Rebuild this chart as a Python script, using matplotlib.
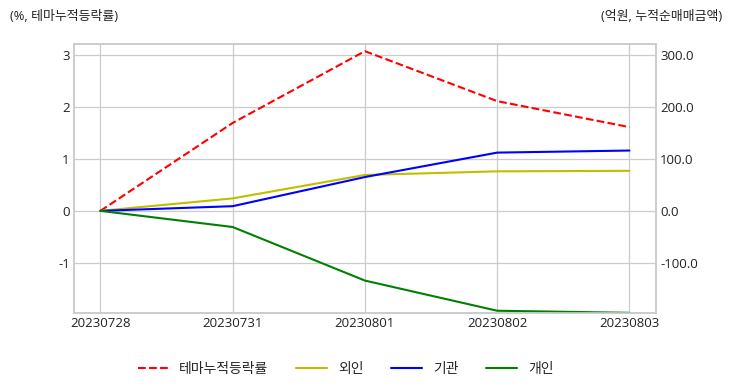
import matplotlib
matplotlib.use('Agg')
import matplotlib.pyplot as plt

# data
dates = ['20230728', '20230731', '20230801', '20230802', '20230803']
theme_rate = [0.0, 1.69, 3.07, 2.11, 1.61]      # %, 테마누적등락률
foreign = [0.0, 24.0, 69.0, 76.0, 77.0]         # 억원, 외인
institution = [0.0, 9.0, 65.0, 112.0, 116.0]    # 억원, 기관
individual = [0.0, -31.0, -134.0, -192.0, -196.0]  # 억원, 개인

plt.style.use('seaborn-v0_8-whitegrid')
plt.rcParams['font.family'] = ['Open Sans', 'Noto Sans CJK KR', 'DejaVu Sans']
plt.rcParams['axes.unicode_minus'] = False

fig = plt.figure(figsize=(7.32, 3.92), dpi=100)
ax = fig.add_axes([0.101, 0.202, 0.795, 0.686])
ax2 = ax.twinx()

x = list(range(len(dates)))
l1, = ax.plot(x, theme_rate, color='red', linestyle='--', linewidth=1.5, label='테마누적등락률')
l2, = ax2.plot(x, foreign, color='y', linewidth=1.5, label='외인')
l3, = ax2.plot(x, institution, color='b', linewidth=1.5, label='기관')
l4, = ax2.plot(x, individual, color='g', linewidth=1.5, label='개인')

ax.set_xlim(-0.2, 4.2)
ax.set_xticks(x)
ax.set_xticklabels(dates)
ax.set_ylim(-1.96, 3.21)
ax.set_yticks([-1, 0, 1, 2, 3])
ax2.set_ylim(-196, 321)
ax2.set_yticks([-100, 0, 100, 200, 300])
ax2.set_yticklabels(['%.1f' % v for v in [-100, 0, 100, 200, 300]])
ax2.grid(False)

for a in (ax, ax2):
    a.tick_params(labelsize=9.5, colors='#222222', pad=3)
    for s in a.spines.values():
        s.set_visible(True)
        s.set_color('#cccccc')
        s.set_linewidth(1.2)
ax.grid(True, color='#cccccc', linewidth=0.9)

fig.text(10 / 732, 1 - 16 / 392, '(%, 테마누적등락률)', fontsize=9.3, va='center', ha='left', color='#222222')
fig.text(722 / 732, 1 - 16 / 392, '(억원, 누적순매매금액)', fontsize=9.3, va='center', ha='right', color='#222222')

fig.legend(handles=[l1, l2, l3, l4], loc='center', bbox_to_anchor=(0.472, 1 - 369 / 392),
           ncol=4, frameon=False, fontsize=10, columnspacing=2.0, handlelength=2.2)

fig.savefig('out.png', dpi=100)
